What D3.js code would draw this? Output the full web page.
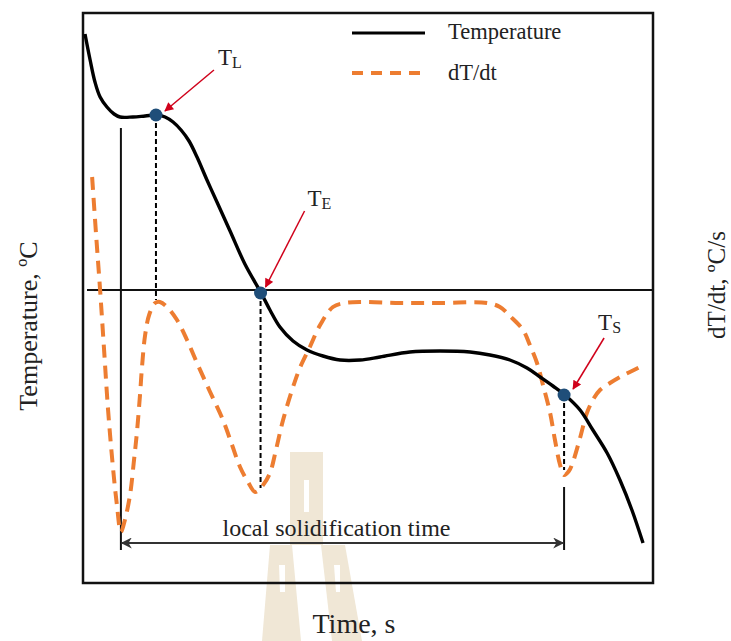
<!DOCTYPE html>
<html><head><meta charset="utf-8">
<script src="https://cdn.jsdelivr.net/npm/d3@7"></script>
<style>
body{margin:0;background:#fff}
svg{display:block}
text{font-family:"Liberation Serif","Times New Roman",serif;fill:#222}
</style>
</head><body>
<svg id="c" width="731" height="641"></svg>
<script>
// ---- data ----
const tempTime = [0.7,2.5,4.2,6.0,8.4,10.9,13.0,17.5,21.8,26.0,28.8,31.6,34.4,37.2,40.0,43.5,47.0,51.6,56.8,62.5,65.6,69.1,73.7,78.6,84.2,90.2,97.2,104.2,114.7,125.3,135.8,142.8,149.8,155.8,160.4,164.9,169.1,174.4,178.9,183.9,188.4,192.6,196.5];
const tempVal  = [674.5,661.5,650.5,643,638,634.5,633,633,633.5,634,633,630.5,626.5,621,613,601.5,590.5,576,559.5,545,536.5,528,521,516.5,513.5,511.5,511.5,513,515.5,516,515.5,514,511.5,507.5,503,498.5,494,486.5,476.5,465,451.5,436.5,420];
const rateTime = [3.2,4.6,6.0,7.4,8.8,10.5,11.9,13.3,14.7,16.5,17.9,18.9,20.0,20.7,21.8,23.2,25.3,27.0,29.5,33.0,36.5,40.0,44.6,49.1,52.3,55.1,57.9,60.4,63.2,65.6,67.7,70.2,73.7,76.1,79.6,83.2,87.7,91.9,98.2,111.2,125.3,141.8,146.3,149.8,154.4,156.8,159.3,161.4,163.9,165.6,167.4,168.8,170.5,171.9,174.4,176.8,179.3,181.4,184.9,188.4,191.9,195.4];
const rateVal  = [11.3,5.5,0,-6.0,-12.0,-17.7,-21.5,-24.2,-23.0,-20.5,-17.0,-14.3,-10.5,-7.7,-4.5,-2.5,-1.3,-1.2,-1.7,-3.0,-5.0,-7.3,-10.2,-13.0,-15.5,-17.7,-19.2,-20.2,-19.5,-18.3,-16.0,-13.0,-9.7,-7.8,-5.7,-3.5,-1.7,-1.3,-1.2,-1.3,-1.3,-1.3,-1.7,-2.6,-4.0,-5.5,-7.3,-9.5,-12.3,-15.0,-17.5,-18.5,-18.1,-17.2,-14.8,-12.3,-10.8,-10.0,-9.3,-8.7,-8.2,-7.7];
const keyNames = ["L","E","S"];
const keyTimes = [25.6, 62.3, 168.8];
const keyTemps = [634, 545, 494];
const keyRates = [-1.0, -19.8, -18.0];
const startTime = 13.3;          // start of solidification (first dT/dt minimum)
const startTop = 627.5, startBottom = 416.5;
const spanTemp = 420;            // level of the "local solidification time" arrow
const legendLabels = ["Temperature", "dT/dt"];

// ---- scales ----
const svg = d3.select("#c");
const x = d3.scaleLinear().domain([0,200]).range([83,653]);
const yT = d3.scaleLinear().domain([400,685]).range([583,13]);
const yD = d3.scaleLinear().domain([-29.3,27.7]).range([583,13]);

const defs = svg.append("defs");
defs.append("marker").attr("id","red").attr("viewBox","0 0 10 10").attr("refX",9).attr("refY",5)
  .attr("markerWidth",11).attr("markerHeight",9).attr("markerUnits","userSpaceOnUse").attr("orient","auto")
  .append("path").attr("d","M0,0L10,5L0,10z").attr("fill","#d0021b");
defs.append("marker").attr("id","blk").attr("viewBox","0 0 10 10").attr("refX",9).attr("refY",5)
  .attr("markerWidth",14).attr("markerHeight",11).attr("markerUnits","userSpaceOnUse").attr("orient","auto-start-reverse")
  .append("path").attr("d","M0,0L10,5L0,10L3,5z").attr("fill","#333");

// faint background watermark (decoration)
const wm = svg.append("g").attr("fill","#F0E7D6");
wm.append("path").attr("d","M290,452H323V545H290Z");
wm.append("path").attr("d","M270,545H292L301,641H262Z");
wm.append("path").attr("d","M321,545H345L362,641H332Z");
const wmGaps = svg.append("g").attr("fill","#fff");
wmGaps.append("path").attr("d","M304,480H309V512H304Z");
wmGaps.append("path").attr("d","M279,565H285V592H280Z");
wmGaps.append("path").attr("d","M334,565H340V592H336Z");

// frame
svg.append("rect").attr("x",83).attr("y",13).attr("width",570).attr("height",570)
  .attr("fill","none").attr("stroke","#111").attr("stroke-width",2.5);

// zero line of dT/dt
svg.append("line").attr("x1",87).attr("x2",653).attr("y1",yD(0)).attr("y2",yD(0))
  .attr("stroke","#111").attr("stroke-width",2);

// solid vertical at start of solidification
svg.append("line").attr("x1",x(startTime)).attr("x2",x(startTime))
  .attr("y1",yT(startTop)).attr("y2",yT(startBottom)).attr("stroke","#111").attr("stroke-width",2);

// dT/dt curve
const lineD = d3.line().x((d,i)=>x(rateTime[i])).y((d,i)=>yD(rateVal[i])).curve(d3.curveCatmullRom.alpha(0.5));
svg.append("path").attr("d",lineD(rateVal)).attr("fill","none").attr("stroke","#ED7D31")
  .attr("stroke-width",4).attr("stroke-dasharray","13,8");

// temperature curve
const lineT = d3.line().x((d,i)=>x(tempTime[i])).y((d,i)=>yT(tempVal[i])).curve(d3.curveCatmullRom.alpha(0.5));
svg.append("path").attr("d",lineT(tempVal)).attr("fill","none").attr("stroke","#000").attr("stroke-width",3.4);

// dashed verticals from key points
keyTimes.forEach((t,i)=>{
  svg.append("line").attr("x1",x(t)).attr("x2",x(t)).attr("y1",yT(keyTemps[i])).attr("y2",yD(keyRates[i]))
    .attr("stroke","#000").attr("stroke-width",2).attr("stroke-dasharray","5,3");
});
// solid end of solidification line
svg.append("line").attr("x1",x(keyTimes[2])).attr("x2",x(keyTimes[2]))
  .attr("y1",yT(448)).attr("y2",yT(startBottom)).attr("stroke","#111").attr("stroke-width",2);

// double arrow
svg.append("line").attr("x1",x(startTime)+1).attr("x2",x(keyTimes[2])-1).attr("y1",yT(spanTemp)).attr("y2",yT(spanTemp))
  .attr("stroke","#333").attr("stroke-width",2).attr("marker-start","url(#blk)").attr("marker-end","url(#blk)");
svg.append("text").attr("x",(x(startTime)+x(keyTimes[2]))/2-6).attr("y",536).attr("text-anchor","middle")
  .attr("font-size",24).text("local solidification time");

// key points
const arrowOff = [[58,-45,9,-4],[44,-82,5,-6],[40,-57,9,-6]];
const labelOff = [[62,-50],[47,-87],[34,-65]];
keyTimes.forEach((t,i)=>{
  const cx = x(t), cy = yT(keyTemps[i]);
  svg.append("circle").attr("cx",cx).attr("cy",cy).attr("r",6.5).attr("fill","#1F4E79");
  const a = arrowOff[i];
  svg.append("line").attr("x1",cx+a[0]).attr("y1",cy+a[1]).attr("x2",cx+a[2]).attr("y2",cy+a[3])
    .attr("stroke","#d0021b").attr("stroke-width",1.5).attr("marker-end","url(#red)");
  const lt = svg.append("text").attr("x",cx+labelOff[i][0]).attr("y",cy+labelOff[i][1]).attr("font-size",23);
  lt.append("tspan").text("T");
  lt.append("tspan").attr("font-size",16).attr("dy",3).text(keyNames[i]);
});

// legend
svg.append("line").attr("x1",352).attr("x2",425).attr("y1",33).attr("y2",33).attr("stroke","#000").attr("stroke-width",3);
svg.append("line").attr("x1",352).attr("x2",425).attr("y1",73).attr("y2",73).attr("stroke","#ED7D31")
  .attr("stroke-width",4).attr("stroke-dasharray","11,8");
svg.append("text").attr("x",448).attr("y",39).attr("font-size",22.5).text(legendLabels[0]);
svg.append("text").attr("x",448).attr("y",80).attr("font-size",22.5).text(legendLabels[1]);

// axis titles
svg.append("text").attr("transform","translate(37,326) rotate(-90)").attr("text-anchor","middle")
  .attr("font-size",26).text("Temperature, ºC");
svg.append("text").attr("transform","translate(725,285) rotate(-90)").attr("text-anchor","middle")
  .attr("font-size",25).text("dT/dt, ºC/s");
svg.append("text").attr("x",354).attr("y",633).attr("text-anchor","middle")
  .attr("font-size",28).text("Time, s");
</script>
</body></html>
